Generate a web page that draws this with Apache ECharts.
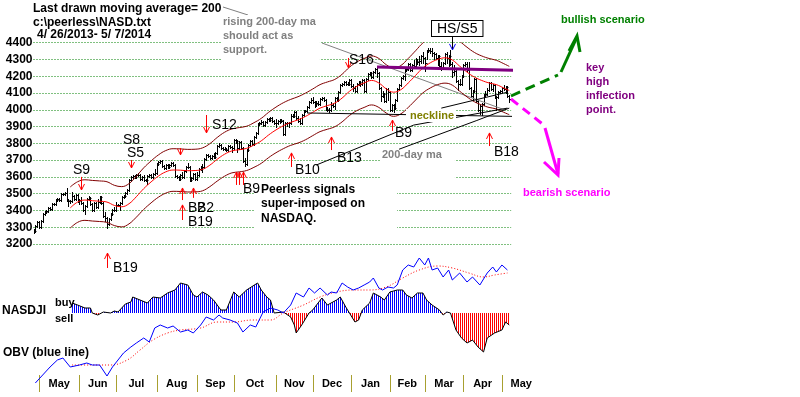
<!DOCTYPE html>
<html>
<head>
<meta charset="utf-8">
<script src="https://cdn.jsdelivr.net/npm/echarts/dist/echarts.min.js"></script>
<style>
html, body { margin: 0; padding: 0; background: #fff; }
#chart { width: 800px; height: 397px; }
</style>
</head>
<body>
<div id="chart"></div>
<script>
// NASDAQ daily bars, trading day 0 = 4/26/2013 ... day 259 = 5/7/2014
var priceClose = [3279,3307,3329,
    3299,3340,3378,3392,3396,3414,3410,3437,3438,3462,3471,3465,3498,3496,3502,3463,3459,3459,3488,3467,3491,3456,
    3465,3446,3401,3424,3469,3474,3437,3400,3445,3423,3453,3482,3443,3365,3357,3320,3348,3376,3401,3403,
    3434,3433,3443,3479,3485,3504,3520,3579,3600,3607,3599,3610,3611,3587,3600,3580,3579,3605,3613,3599,3616,3626,
    3675,3689,3692,3665,3654,3669,3660,3669,3684,3670,3606,3602,3589,3613,3599,3638,3657,3657,3579,3593,3620,3590,
    3612,3649,3658,3660,3706,3729,3725,3715,3722,3717,3745,3783,3789,3774,3765,3768,3761,3787,3781,3771,
    3817,3815,3774,3807,3770,3694,3677,3761,3791,3815,3794,3839,3863,3914,3920,3929,3907,3929,3943,3940,3952,3931,3920,
    3922,3936,3940,3931,3858,3919,3919,3920,3966,3965,3985,3949,3932,3921,3969,3991,3994,4017,4045,4060,
    4045,4037,4038,4033,4062,4069,4060,4003,3998,4001,4029,4023,4070,4059,4104,4148,4155,4168,4156,4154,4177,
    4143,4131,4113,4153,4165,4156,4175,4114,4184,4215,4219,4197,4226,4243,4219,4128,4083,4097,4052,4123,4104,
    3997,4031,4012,4057,4126,4149,4191,4201,4240,4244,4273,4238,4268,4264,4292,4287,4292,4319,4308,
    4278,4352,4358,4352,4336,4335,4307,4323,4260,4245,4280,4333,4307,4319,4276,4226,4234,4173,4151,4156,4199,
    4268,4276,4238,4128,4080,4113,4183,4055,3999,4022,4034,4086,4095,4121,4161,4126,4148,4076,4074,4104,4115,
    4127,4123,4138,4080,4067];
var priceHigh = [3290,3313,3335,
    3335,3346,3384,3398,3402,3420,3420,3443,3444,3468,3477,3477,3504,3504,3508,3532,3469,3465,3510,3494,3497,3497,
    3471,3480,3452,3430,3475,3485,3480,3443,3451,3451,3470,3488,3488,3449,3390,3363,3354,3382,3407,3420,
    3451,3440,3449,3485,3491,3510,3526,3585,3606,3613,3613,3616,3625,3617,3606,3614,3586,3611,3619,3619,3622,3648,
    3681,3695,3698,3698,3671,3675,3675,3675,3690,3690,3676,3612,3608,3619,3630,3644,3663,3680,3663,3599,3626,3626,
    3630,3655,3664,3675,3712,3735,3735,3731,3728,3745,3751,3789,3800,3795,3780,3780,3774,3793,3793,3787,
    3823,3823,3821,3813,3813,3776,3710,3767,3797,3821,3821,3845,3869,3920,3926,3940,3935,3935,3949,3949,3958,3958,3937,
    3945,3942,3946,3946,3937,3925,3925,3926,3972,3972,3991,3991,3965,3950,3975,3997,4000,4023,4051,4069,
    4075,4051,4055,4055,4068,4075,4075,4066,4015,4010,4045,4040,4076,4076,4110,4154,4161,4174,4174,4165,4183,
    4183,4152,4140,4159,4171,4171,4181,4181,4190,4221,4225,4225,4233,4249,4249,4225,4134,4110,4103,4129,4129,
    4110,4037,4037,4063,4132,4155,4197,4207,4246,4250,4279,4279,4274,4295,4310,4300,4320,4325,4342,
    4314,4358,4371,4371,4366,4345,4341,4329,4329,4282,4286,4339,4346,4325,4356,4282,4270,4245,4179,4185,4205,
    4274,4285,4282,4285,4134,4119,4189,4189,4061,4028,4040,4092,4110,4127,4167,4167,4155,4154,4082,4110,4121,
    4135,4146,4144,4144,4086];
var priceLow = [3265,3273,3301,
    3293,3293,3334,3372,3386,3390,3404,3404,3431,3432,3456,3459,3459,3490,3490,3454,3425,3447,3453,3461,3461,3450,
    3440,3440,3395,3378,3418,3463,3431,3394,3394,3417,3417,3447,3437,3359,3340,3294,3314,3342,3370,3395,
    3397,3427,3402,3437,3473,3479,3498,3514,3573,3594,3593,3593,3605,3581,3581,3574,3573,3560,3599,3593,3593,3610,
    3620,3669,3683,3659,3648,3648,3654,3654,3663,3664,3600,3596,3583,3583,3593,3593,3632,3651,3573,3573,3587,3584,
    3584,3606,3643,3630,3654,3700,3719,3709,3709,3711,3711,3739,3777,3768,3759,3759,3755,3755,3775,3750,
    3765,3800,3750,3768,3764,3688,3665,3671,3755,3785,3788,3788,3833,3857,3908,3914,3901,3901,3923,3934,3934,3925,3914,
    3900,3916,3920,3925,3852,3852,3905,3900,3914,3955,3959,3943,3926,3915,3915,3963,3985,3988,4011,4039,
    4039,4015,4020,4027,4027,4056,4054,3997,3992,3985,3995,4017,4005,4053,4053,4098,4142,4149,4150,4145,4148,
    4137,4113,4107,4107,4147,4140,4150,4108,4108,4178,4209,4191,4191,4220,4195,4122,4052,4077,4046,4046,4061,
    3991,3991,3985,4006,4051,4120,4143,4185,4175,4234,4238,4232,4232,4258,4258,4275,4270,4280,4280,
    4230,4300,4346,4340,4320,4300,4301,4270,4254,4239,4245,4274,4280,4260,4270,4198,4205,4167,4120,4145,4150,
    4193,4262,4232,4122,4074,4060,4107,4049,3993,3975,3970,4028,4080,4089,4115,4120,4110,4070,3998,4068,4098,
    4109,4117,4100,4074,4046];

// 21-day moving average and its bands
var maDay = [20,24,28,32,36,40,44,48,52,56,60,64,68,72,76,80,84,88,92,96,100,104,108,112,116,120,124,128,132,136,140,144,148,152,156,160,164,168,172,176,180,184,188,192,196,200,204,208,212,216,220,224,228,232,236,240,244,248,252,256,259];
var maValue = [3415,3450,3462,3458,3455,3450,3430,3422,3440,3482,3530,3570,3605,3630,3641,3640,3637,3638,3645,3670,3705,3735,3755,3762,3770,3790,3815,3850,3880,3905,3925,3940,3960,3985,4010,4025,4040,4070,4110,4140,4160,4175,4160,4125,4105,4120,4160,4205,4250,4280,4300,4310,4297,4260,4225,4195,4175,4160,4150,4130,4115];
var bandUpper = [3540,3571,3583,3579,3576,3571,3550,3542,3560,3604,3654,3695,3731,3757,3768,3767,3764,3765,3773,3798,3835,3866,3886,3894,3902,3923,3949,3985,4016,4042,4062,4078,4099,4124,4150,4166,4181,4212,4254,4285,4306,4321,4306,4269,4249,4264,4306,4352,4399,4430,4451,4461,4447,4409,4373,4342,4321,4306,4295,4275,4259];
var bandLower = [3295,3329,3341,3337,3334,3329,3310,3302,3320,3360,3406,3445,3479,3503,3514,3513,3510,3511,3517,3542,3575,3604,3624,3630,3638,3657,3681,3715,3744,3768,3788,3802,3821,3846,3870,3884,3899,3928,3966,3995,4014,4029,4014,3981,3961,3976,4014,4058,4101,4130,4150,4159,4147,4111,4077,4048,4029,4014,4005,3985,3971];

// 200-day ma and hand-drawn lines
var ma200Day = [199,220,241,259];
var ma200Value = [3765,3850,3935,4010];
var trendDay = [154,207,258];
var trendValue = [3671,3909,4010];
var shoulderDay = [222,258];
var shoulderValue = [4010,4105];
var necklineDay = [149,282];
var necklineValue = [3981,3957];
var keyHighDay = [187,279,300];
var keyHighValue = [4255,4232,4225];

// Peerless signals
var sigName = ['S9','S8','S5','','S12','S16','HS/S5','B19','B2','B2','B19','','','B9','B10','B13','B9','B18'];
var sigDay  = [26,53,53,80,94,171,228,40,81,87,81,110,112,114,140,162,195,248];
var sigTip  = [3522,3701,3653,3731,3862,4249,4357,3146,3534,3534,3433,3629,3629,3629,3743,3838,3939,3862];
var sigTail = [3600,3701,3701,3772,3969,4309,4440,3057,3462,3475,3343,3552,3552,3552,3659,3760,3874,3784];
var sigLabelOffset = [[-8,-14],[-8,-27],[-4,-14],[0,0],[6,3],[1,-5],[-20,-15],[6,-7],[6,1],[4,3],[6,-5],[0,0],[0,0],[0,-3],[4,-4],[6,1],[3,-5],[5,-1]];

// NASDJI oscillator
var oscDay = [21,24,28,31,32,35,38,42,44,46,50,53,54,58,62,65,69,73,77,80,81,84,87,89,92,95,98,102,105,109,112,116,122,124,127,129,131,136,140,142,143,146,150,152,157,160,165,167,170,172,175,177,179,183,185,189,191,194,198,201,203,206,209,212,214,217,221,223,225,227,230,233,236,239,242,245,247,251,255,257,259];
var oscValue = [10,8,5,5,0,-2,1,0,2,1,9,11,16,13,10,16,15,20,23,30,32,28,18,16,21,18,13,3,3,21,16,23,30,23,16,13,0,1,-4,-12,-20,-12,0,3,15,8,13,16,6,0,-9,-7,3,10,20,16,13,21,23,23,18,15,20,20,13,8,3,-2,1,0,-17,-25,-30,-27,-34,-39,-25,-20,-17,-9,-12];

// OBV and its moving average
var obvDay = [1,4,9,13,16,20,25,29,32,36,40,43,46,49,53,56,60,63,66,69,73,76,80,84,87,91,94,98,101,103,107,111,114,118,121,125,129,133,136,140,143,147,150,153,156,160,162,165,168,171,174,177,180,183,185,188,190,193,196,198,201,204,207,210,213,215,217,220,223,226,228,232,236,239,243,247,250,252,255,258];
var obvValue = [2,8,18,25,27,18,20,22,20,20,9,18,25,32,38,42,47,43,57,60,57,59,53,55,52,60,68,65,70,67,65,62,53,60,58,73,77,75,72,80,92,88,97,92,97,90,93,92,102,98,95,97,100,103,107,97,95,98,97,100,115,120,118,127,120,127,115,117,108,115,105,112,103,108,100,112,118,113,120,115];
var obvMaDay = [21,31,42,51,58,65,73,80,91,100,109,119,129,136,147,156,165,174,183,192,201,210,220,228,237,245,251,258];
var obvMaValue = [20,20,20,25,35,45,52,55,57,63,63,65,65,72,80,88,93,95,95,98,107,115,119,117,112,108,110,112];

// month axis
var monthName = ['May','Jun','Jul','Aug','Sep','Oct','Nov','Dec','Jan','Feb','Mar','Apr','May'];
var monthStart = [3,25,45,67,89,109,132,152,173,194,213,234,255,276];

var FONT = '"Liberation Sans", Arial, sans-serif';

function pairs(xs, ys) {
    return xs.map(function (x, i) { return [x, ys[i]]; });
}

function stripes(color) {
    var c = document.createElement('canvas');
    c.width = 2; c.height = 2;
    var g = c.getContext('2d');
    g.fillStyle = color;
    g.fillRect(0, 0, 1, 2);
    return { image: c, repeat: 'repeat' };
}

function renderBar(params, api) {
    var d = api.value(0);
    var lo = api.coord([d, api.value(1)]);
    var hi = api.coord([d, api.value(2)]);
    var cl = api.coord([d, api.value(3)]);
    var x = Math.round(lo[0]) + 0.5;
    var yc = Math.round(cl[1]) + 0.5;
    return {
        type: 'group',
        children: [
            { type: 'line', shape: { x1: x, y1: Math.round(hi[1]), x2: x, y2: Math.round(lo[1]) + 1 }, style: { stroke: '#000', lineWidth: 1 } },
            { type: 'line', shape: { x1: x, y1: yc, x2: x + 2, y2: yc }, style: { stroke: '#000', lineWidth: 1 } }
        ]
    };
}

function renderSignal(params, api) {
    var i = params.dataIndex;
    var tip = api.coord([api.value(0), api.value(1)]);
    var tail = api.coord([api.value(0), api.value(2)]);
    var x = Math.round(tip[0]) + 0.5;
    var name = sigName[i];
    var boxed = name === 'HS/S5';
    var children = [];
    if (api.value(1) !== api.value(2)) {
        var dir = tip[1] < tail[1] ? 1 : -1;
        children.push({ type: 'line', shape: { x1: x, y1: tail[1], x2: x, y2: tip[1] }, style: { stroke: boxed ? '#000' : '#ff0000', lineWidth: 1 } });
        children.push({ type: 'polyline', shape: { points: [[x - 3, tip[1] + dir * 6], [x, tip[1]], [x + 3, tip[1] + dir * 6]] }, style: { stroke: boxed ? '#0000ff' : '#ff0000', lineWidth: 1, fill: 'none' } });
    }
    if (name) {
        var off = sigLabelOffset[i];
        var st = { text: name, fill: '#000', font: '14px ' + FONT, verticalAlign: 'top', align: 'left' };
        if (boxed) {
            st.backgroundColor = '#fff';
            st.borderColor = '#000';
            st.borderWidth = 1;
            st.padding = [1, 5, 0, 5];
            st.lineHeight = 14;
        }
        children.push({ type: 'text', x: Math.round(tail[0] + off[0]), y: Math.round(tail[1] + off[1]), style: st, z2: 10 });
    }
    return { type: 'group', children: children };
}

function renderMonth(params, api) {
    var i = params.dataIndex;
    var top = api.coord([monthStart[i], 1]);
    var bot = api.coord([monthStart[i], 0]);
    var mid = api.coord([(monthStart[i] + monthStart[i + 1]) / 2, 0.5]);
    var x = Math.round(top[0]) + 0.5;
    return {
        type: 'group',
        children: [
            { type: 'line', shape: { x1: x, y1: top[1], x2: x, y2: bot[1] }, style: { stroke: '#a8a030', lineWidth: 1 } },
            { type: 'text', x: mid[0], y: mid[1], style: { text: monthName[i], fill: '#000', font: 'bold 11px ' + FONT, align: 'center', verticalAlign: 'middle' } }
        ]
    };
}

function hiddenX(i) {
    return { type: 'value', gridIndex: i, min: 0, max: 260, show: false };
}
function hiddenY(i, mn, mx) {
    return { type: 'value', gridIndex: i, min: mn, max: mx, show: false };
}

var L = 33.5, W = 477.6;

function txt(x, y, text, color, size, extra) {
    var st = { text: text, fill: color, font: 'bold ' + size + 'px ' + FONT, verticalAlign: 'top', align: 'left' };
    for (var k in (extra || {})) st[k] = extra[k];
    return { type: 'text', x: x, y: y, z: st.backgroundColor ? 1 : 5, style: st };
}

var graphics = [
    txt(33, 3, 'Last drawn moving average= 200', '#000', 12),
    txt(33, 17, 'c:\\peerless\\NASD.txt', '#000', 12),
    txt(37, 29, '4/ 26/2013- 5/ 7/2014', '#000', 12),
    { type: 'line', z: 1, shape: { x1: 223, y1: 7, x2: 248, y2: 15 }, style: { stroke: '#808080', lineWidth: 1 } },
    txt(222, 15, 'rising 200-day ma\nshould act as\nsupport.', '#808080', 11, { lineHeight: 14, backgroundColor: '#fff', padding: [0, 4, 6, 1] }),
    { type: 'line', z: 3, shape: { x1: 322, y1: 43, x2: 505, y2: 110 }, style: { stroke: '#808080', lineWidth: 1 } },
    txt(255, 181, 'Peerless signals\nsuper-imposed on\nNASDAQ.', '#000', 12, { lineHeight: 14.5, backgroundColor: '#fff', padding: [1, 32, 9, 6] }),
    txt(380, 148, '200-day ma', '#808080', 11, { backgroundColor: '#fff', padding: [1, 13, 21, 2] }),
    { type: 'text', x: 406, y: 109, z: 10, style: { text: 'neckline', fill: '#808000', font: 'bold 11px ' + FONT, verticalAlign: 'top', backgroundColor: '#fff', padding: [1, 2, 1, 4] } },
    txt(561, 14, 'bullish scenario', '#008000', 11),
    txt(523, 187, 'bearish scenario', '#ff00ff', 11),
    txt(586, 61, 'key\nhigh\ninflection\npoint.', '#800080', 11, { lineHeight: 14 }),
    { type: 'polyline', z: 3, shape: { points: [[511, 96], [558, 75]] }, style: { stroke: '#008000', lineWidth: 3, lineDash: [10, 6], fill: 'none' } },
    { type: 'line', z: 3, shape: { x1: 561, y1: 72, x2: 577, y2: 37 }, style: { stroke: '#008000', lineWidth: 3 } },
    { type: 'polyline', z: 3, shape: { points: [[569, 51], [577, 36], [580, 52]] }, style: { stroke: '#008000', lineWidth: 3, fill: 'none' } },
    { type: 'polyline', z: 3, shape: { points: [[511, 99], [545, 126]] }, style: { stroke: '#ff00ff', lineWidth: 3, lineDash: [9, 6], fill: 'none' } },
    { type: 'line', z: 3, shape: { x1: 545, y1: 128, x2: 558, y2: 174 }, style: { stroke: '#ff00ff', lineWidth: 3 } },
    { type: 'polyline', z: 3, shape: { points: [[544, 162], [558, 175], [559, 158]] }, style: { stroke: '#ff00ff', lineWidth: 3, fill: 'none' } },
    txt(2, 305, 'NASDJI', '#000', 12),
    txt(55, 297, 'buy', '#000', 11),
    txt(55, 313, 'sell', '#000', 11),
    txt(3, 347, 'OBV (blue line)', '#000', 12)
];

function blackLine(name, xs, ys) {
    return { type: 'line', name: name, data: pairs(xs, ys), symbol: 'none', clip: false, lineStyle: { color: '#000', width: 1 } };
}

var option = {
    animation: false,
    backgroundColor: '#fff',
    grid: [
        { left: L, top: 42.7, width: W, height: 201.3 },
        { left: L, top: 273, width: W, height: 40 },
        { left: L, top: 313, width: W, height: 45 },
        { left: L, top: 273, width: W, height: 85 },
        { left: L, top: 250, width: W, height: 135 },
        { left: L, top: 375, width: W, height: 17 }
    ],
    xAxis: [hiddenX(0), hiddenX(1), hiddenX(2), hiddenX(3), hiddenX(4), hiddenX(5)],
    yAxis: [
        {
            type: 'value', gridIndex: 0, min: 3200, max: 4400, interval: 100,
            axisLine: { show: false }, axisTick: { show: false },
            axisLabel: { margin: 1, color: '#000', fontWeight: 'bold', fontSize: 12, fontFamily: FONT, formatter: function (v) { return String(v); } },
            splitLine: { lineStyle: { color: '#008000', type: [1, 2], width: 1 } }
        },
        hiddenY(1, 0, 40), hiddenY(2, -45, 0), hiddenY(3, -45, 40), hiddenY(4, 0, 135), hiddenY(5, 0, 1)
    ],
    graphic: graphics,
    series: [
        {
            type: 'custom', name: 'NASDAQ', xAxisIndex: 0, yAxisIndex: 0,
            renderItem: renderBar, encode: { x: 0, y: [1, 2, 3] },
            data: priceClose.map(function (c, i) { return [i, priceLow[i], priceHigh[i], c]; })
        },
        { type: 'line', name: 'upper band', data: pairs(maDay, bandUpper), symbol: 'none', smooth: 0.4, lineStyle: { color: '#800000', width: 1 } },
        { type: 'line', name: 'lower band', data: pairs(maDay, bandLower), symbol: 'none', smooth: 0.4, lineStyle: { color: '#800000', width: 1 } },
        { type: 'line', name: '21-day ma', data: pairs(maDay, maValue), symbol: 'none', smooth: 0.4, lineStyle: { color: '#ff0000', width: 1 } },
        blackLine('200-day ma', ma200Day, ma200Value),
        blackLine('trend', trendDay, trendValue),
        blackLine('shoulder', shoulderDay, shoulderValue),
        blackLine('neckline', necklineDay, necklineValue),
        { type: 'line', name: 'key high', data: pairs(keyHighDay, keyHighValue), symbol: 'none', clip: false, lineStyle: { color: '#800080', width: 3 } },
        {
            type: 'custom', name: 'signals', xAxisIndex: 0, yAxisIndex: 0, clip: false, z: 4,
            renderItem: renderSignal, encode: { x: 0, y: [1, 2] },
            data: sigDay.map(function (d, i) { return [d, sigTip[i], sigTail[i]]; })
        },
        { type: 'line', xAxisIndex: 1, yAxisIndex: 1, data: pairs(oscDay, oscValue), symbol: 'none', clip: true, lineStyle: { width: 0 }, areaStyle: { color: stripes('#0000ff'), opacity: 1 } },
        { type: 'line', xAxisIndex: 2, yAxisIndex: 2, data: pairs(oscDay, oscValue), symbol: 'none', clip: true, lineStyle: { width: 0 }, areaStyle: { color: stripes('#ff0000'), opacity: 1 } },
        { type: 'line', xAxisIndex: 3, yAxisIndex: 3, data: pairs(oscDay, oscValue), symbol: 'none', lineStyle: { color: '#000', width: 1 } },
        { type: 'line', xAxisIndex: 4, yAxisIndex: 4, data: pairs(obvMaDay, obvMaValue), symbol: 'none', smooth: 0.4, lineStyle: { color: '#ff0000', width: 1, type: [1, 2] } },
        { type: 'line', xAxisIndex: 4, yAxisIndex: 4, data: pairs(obvDay, obvValue), symbol: 'none', lineStyle: { color: '#0000ff', width: 1 } },
        {
            type: 'custom', name: 'months', xAxisIndex: 5, yAxisIndex: 5, clip: false,
            renderItem: renderMonth, encode: { x: 0 },
            data: monthName.map(function (m, i) { return [monthStart[i], i]; })
        }
    ]
};

var chart = echarts.init(document.getElementById('chart'));
chart.setOption(option);
</script>
</body>
</html>
